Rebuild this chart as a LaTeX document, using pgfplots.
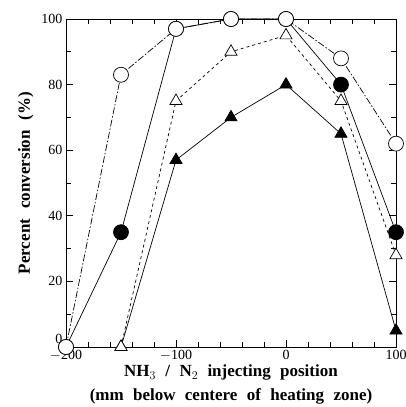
\documentclass[border=0pt]{standalone}
\usepackage{pgfplots}
\pgfplotsset{compat=1.18}
\usepackage{fontspec}
\setmainfont{Liberation Serif}
\begin{document}
\begin{tikzpicture}
\begin{axis}[
  scale only axis, width=330pt, height=328pt,
  xmin=-200, xmax=100, ymin=0, ymax=100,
  xtick={-200,-100,0,100}, minor xtick={-180,-160,...,80},
  ytick={0,20,...,100}, minor ytick={10,30,...,90},
  tick align=inside, major tick length=7pt, minor tick length=5pt,
  tick style={black, line width=0.8pt},
  axis line style={line width=0.9pt},
  xticklabels={$-$200,$-$100,0,100},
  yticklabels={\raisebox{4pt}[0pt][0pt]{0},20,40,60,80,100},
  /pgf/number format/assume math mode=true,
  tick label style={font=\fontsize{14}{14}\selectfont},
  xticklabel style={yshift=0pt},
  xlabel={\bfseries\spaceskip=0.55em NH$_{3}$ / N$_{2}$ injecting position\\\bfseries\spaceskip=0.55em (mm below centere of heating zone)},
  xlabel style={font=\fontsize{17}{24}\selectfont, align=center, yshift=3pt},
  ylabel={\bfseries\spaceskip=0.6em Percent conversion (\%)},
  ylabel style={font=\fontsize{17}{17}\selectfont, yshift=1pt},
  clip=false,
]
\coordinate (sw) at (rel axis cs:0,0);
% filled triangles, solid
\addplot[black, line width=0.7pt, mark=triangle*, mark size=7pt, mark options={solid, fill=black}]
  coordinates {(-150,0) (-100,57) (-50,70) (0,80) (50,65) (100,5)};
% filled circles, solid
\addplot[black, line width=0.7pt, mark=*, mark size=7.5pt, mark options={solid, fill=black}]
  coordinates {(-200,0) (-150,35) (-100,97) (-50,100) (0,100) (50,80) (100,35)};
% open triangles, dashed
\addplot[black, line width=0.7pt, dashed, mark=triangle*, mark size=7pt, mark options={solid, fill=white}]
  coordinates {(-150,0) (-100,75) (-50,90) (0,95) (50,75) (100,28)};
% open circles, dash-dot
\addplot[black, line width=0.7pt, dash pattern=on 7pt off 2pt on 1.5pt off 2pt, mark=*, mark size=7.5pt, mark options={solid, fill=white}]
  coordinates {(-200,0) (-150,83) (-100,97) (-50,100) (0,100) (50,88) (100,62)};
\end{axis}
\pgfresetboundingbox
\path[use as bounding box] ([shift={(-66pt,-60pt)}]sw) rectangle ([shift={(340pt,347pt)}]sw);
\end{tikzpicture}
\end{document}
